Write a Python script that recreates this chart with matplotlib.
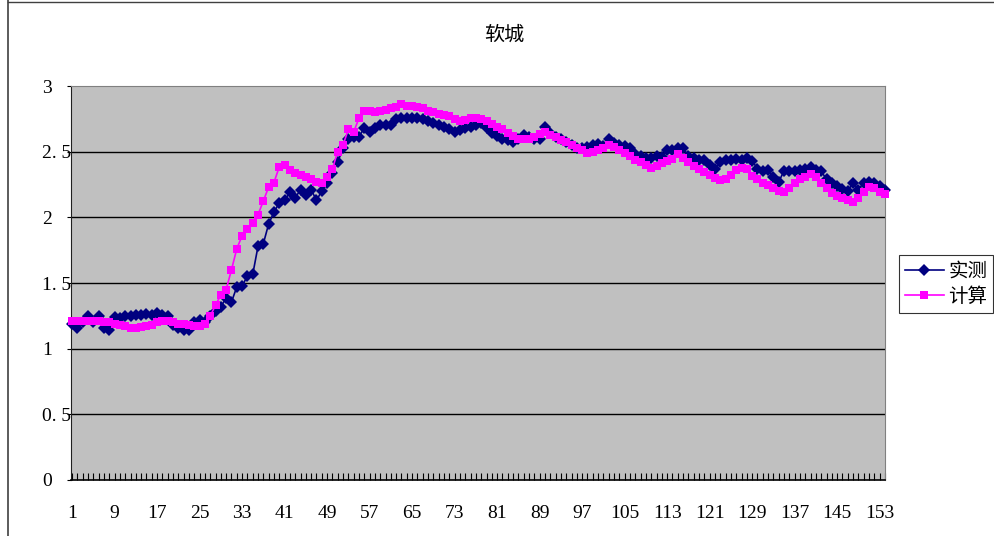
import matplotlib
matplotlib.use("Agg")
import matplotlib.pyplot as plt
from matplotlib.lines import Line2D
import numpy as np

title = "软城"
series_names = ["实测", "计算"]
x_tick_labels = [str(v) for v in range(1, 154, 8)]
y_ticks = [0, 0.5, 1, 1.5, 2, 2.5, 3]
y_tick_labels = ["0", "0. 5", "1", "1. 5", "2", "2. 5", "3"]

measured = [
    1.19, 1.16, 1.20, 1.245, 1.205, 1.245, 1.16, 1.14, 1.24, 1.235,
    1.245, 1.245, 1.255, 1.255, 1.265, 1.26, 1.275, 1.26, 1.25, 1.18,
    1.155, 1.14, 1.145, 1.20, 1.22, 1.20, 1.25, 1.29, 1.32, 1.385,
    1.355, 1.47, 1.475, 1.555, 1.565, 1.78, 1.80, 1.95, 2.04, 2.11,
    2.13, 2.19, 2.15, 2.21, 2.17, 2.21, 2.13, 2.20, 2.26, 2.34,
    2.42, 2.53, 2.60, 2.615, 2.615, 2.68, 2.65, 2.68, 2.70, 2.70,
    2.70, 2.75, 2.755, 2.755, 2.755, 2.755, 2.745, 2.73, 2.715, 2.70,
    2.69, 2.67, 2.65, 2.665, 2.68, 2.69, 2.70, 2.72, 2.68, 2.645,
    2.62, 2.60, 2.59, 2.575, 2.595, 2.63, 2.61, 2.60, 2.595, 2.69,
    2.645, 2.61, 2.60, 2.57, 2.55, 2.53, 2.525, 2.535, 2.55, 2.56,
    2.545, 2.60, 2.565, 2.55, 2.54, 2.525, 2.48, 2.465, 2.455, 2.45,
    2.465, 2.46, 2.515, 2.51, 2.53, 2.525, 2.465, 2.45, 2.44, 2.435,
    2.40, 2.37, 2.42, 2.44, 2.435, 2.445, 2.44, 2.455, 2.43, 2.37,
    2.35, 2.36, 2.31, 2.27, 2.355, 2.355, 2.35, 2.36, 2.37, 2.38,
    2.36, 2.35, 2.29, 2.265, 2.235, 2.215, 2.20, 2.265, 2.21, 2.265,
    2.27, 2.265, 2.235, 2.21,
]

computed = [
    1.21, 1.21, 1.21, 1.21, 1.21, 1.21, 1.205, 1.20, 1.19, 1.18,
    1.17, 1.16, 1.16, 1.165, 1.17, 1.18, 1.20, 1.21, 1.21, 1.20,
    1.19, 1.185, 1.18, 1.175, 1.17, 1.19, 1.25, 1.33, 1.41, 1.45,
    1.60, 1.76, 1.86, 1.91, 1.955, 2.02, 2.125, 2.23, 2.265, 2.385,
    2.40, 2.36, 2.335, 2.32, 2.305, 2.29, 2.27, 2.26, 2.305, 2.37,
    2.50, 2.55, 2.67, 2.65, 2.755, 2.81, 2.81, 2.80, 2.81, 2.82,
    2.83, 2.84, 2.86, 2.85, 2.85, 2.84, 2.83, 2.81, 2.80, 2.79,
    2.78, 2.77, 2.75, 2.73, 2.74, 2.755, 2.755, 2.75, 2.73, 2.71,
    2.69, 2.67, 2.645, 2.62, 2.60, 2.595, 2.60, 2.615, 2.635, 2.65,
    2.63, 2.61, 2.59, 2.57, 2.55, 2.53, 2.51, 2.49, 2.50, 2.515,
    2.53, 2.55, 2.535, 2.51, 2.49, 2.465, 2.44, 2.42, 2.395, 2.375,
    2.39, 2.41, 2.43, 2.445, 2.485, 2.45, 2.42, 2.39, 2.37, 2.345,
    2.32, 2.30, 2.285, 2.29, 2.32, 2.36, 2.375, 2.365, 2.315, 2.29,
    2.265, 2.245, 2.22, 2.20, 2.19, 2.225, 2.265, 2.29, 2.31, 2.33,
    2.305, 2.265, 2.225, 2.185, 2.165, 2.15, 2.135, 2.115, 2.145, 2.19,
    2.23, 2.22, 2.19, 2.175,
]

n = len(measured)
x = np.arange(1, n + 1)

W, H = 994, 536
fig = plt.figure(figsize=(W / 100, H / 100), dpi=100)
fig.patch.set_facecolor("white")

left, right, top, bottom = 71, 885, 86, 480
ax = fig.add_axes([left / W, 1 - bottom / H, (right - left) / W, (bottom - top) / H])
ax.set_facecolor("#C0C0C0")

for yv in y_ticks[1:-1]:
    ax.axhline(yv, color="black", lw=1.0, zorder=1)

ax.plot(x, measured, color="#000080", lw=1.2, marker="D", ms=5.8,
        markeredgewidth=0, zorder=3, clip_on=False, label=series_names[0])
ax.plot(x, computed, color="#FF00FF", lw=1.2, marker="s", ms=5.6,
        markeredgewidth=0, zorder=4, clip_on=False, label=series_names[1])

ax.set_xlim(0.8, n)
ax.set_ylim(0, 3)

serif = ["Liberation Serif", "DejaVu Serif"]
ax.set_xticks(list(range(1, 154, 8)))
ax.set_xticklabels(x_tick_labels, family=serif, fontsize=14)
ax.set_xticks(x, minor=True)
ax.tick_params(axis="x", which="major", direction="in", length=5, width=0.8, pad=18)
ax.tick_params(axis="x", which="minor", direction="in", length=5, width=0.8)

ax.set_yticks(y_ticks)
ax.set_yticklabels(y_tick_labels, family=serif, fontsize=14)
ax.tick_params(axis="y", direction="out", length=3, width=0.8, pad=18)
for lab in ax.get_yticklabels():
    lab.set_horizontalalignment("left")

ax.spines["left"].set_color("#202020")
ax.spines["bottom"].set_color("black")
ax.spines["bottom"].set_linewidth(1.2)
ax.spines["top"].set_color("#808080")
ax.spines["right"].set_color("#808080")

cjk = ["Noto Sans CJK SC", "DejaVu Sans"]
fig.text(504 / W, 1 - 35 / H, title, ha="center", va="center",
         family=cjk, fontsize=14.5)

handles = [
    Line2D([], [], color="#000080", lw=1.2, marker="D", ms=6, markeredgewidth=0),
    Line2D([], [], color="#FF00FF", lw=1.2, marker="s", ms=6, markeredgewidth=0),
]
leg = fig.legend(handles, series_names, loc="upper left",
                 bbox_to_anchor=(899 / W, 1 - 255 / H),
                 prop={"family": cjk, "size": 14},
                 frameon=True, fancybox=False, shadow=False,
                 borderpad=0.3, labelspacing=0.2, handlelength=2.0,
                 handletextpad=0.25, borderaxespad=0)
leg.get_frame().set_edgecolor("black")
leg.get_frame().set_linewidth(0.8)

# chart-area border (cropped in the reference)
fig.add_artist(Line2D([7.5 / W, 7.5 / W], [0, 1], transform=fig.transFigure,
                      color="#404040", lw=1.2))
fig.add_artist(Line2D([7.5 / W, 1], [1 - 1.5 / H, 1 - 1.5 / H], transform=fig.transFigure,
                      color="#404040", lw=1.0))

fig.savefig("out.png", dpi=100)
